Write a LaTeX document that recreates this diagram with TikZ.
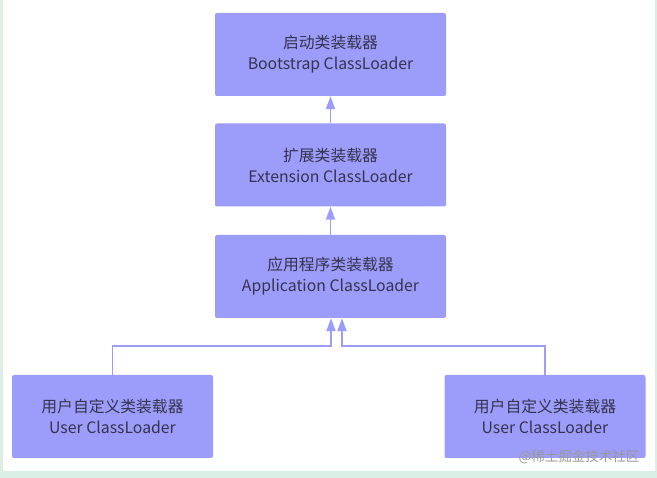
\documentclass[tikz,border=0pt]{standalone}
\usepackage{fontspec}
\setmainfont{Noto Sans CJK SC}
\usetikzlibrary{arrows.meta}
\definecolor{boxblue}{HTML}{9C9CFA}
\definecolor{txtgray}{HTML}{34344E}
\definecolor{framegreen}{HTML}{DCEFE4}
\tikzset{
  loader/.style={fill=boxblue, rounded corners=2pt, minimum width=231pt, minimum height=83pt,
    text=txtgray, align=center, font=\fontsize{15.8}{21}\selectfont, inner sep=0pt},
  user/.style={loader, minimum width=201pt},
  parent/.style={draw=boxblue, line width=1.8pt, -{Triangle[width=9pt,length=13pt]}}
}
\begin{document}
\begin{tikzpicture}[x=1pt,y=-1pt]
  % frame
  \fill[framegreen] (0,0) rectangle (657,478);
  \fill[white] (3,0) rectangle (655,471);
  \useasboundingbox (0,0) rectangle (657,478);

  \node[loader] (boot) at (330.5,54.5) {启动类装载器\\Bootstrap ClassLoader};
  \node[loader] (ext) at (330.5,165) {扩展类装载器\\Extension ClassLoader};
  \node[loader] (app) at (330.5,276.5) {应用程序类装载器\\Application ClassLoader};
  \node[user] (userA) at (112.5,416.5) {用户自定义类装载器\\User ClassLoader};
  \node[user] (userB) at (545,416.5) {用户自定义类装载器\\User ClassLoader};

  \draw[parent] (ext.north) -- (boot.south);
  \draw[parent] (app.north) -- (ext.south);
  \draw[parent] (userA.north) |- (331,346) -- ([xshift=0.5pt]app.south);
  \draw[parent] (userB.north) |- (342,346) -- ([xshift=11.5pt]app.south);

  \node[text=gray!80, font=\fontsize{13.5}{14}\selectfont, anchor=east] (mark) at (643,457) {@稀土掘金技术社区};
\end{tikzpicture}
\end{document}
